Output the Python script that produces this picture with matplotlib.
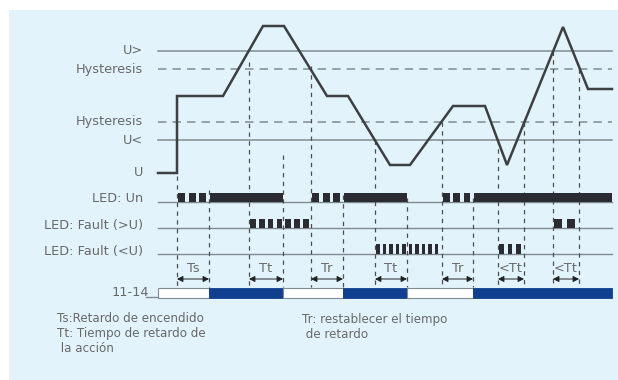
import matplotlib
matplotlib.use("Agg")
import matplotlib.pyplot as plt
from matplotlib.patches import Rectangle

# ---------------- data (diagram units: x = time, y = level, screen-like) -------------
level_labels = ["U>", "Hysteresis", "Hysteresis", "U<", "U"]
level_y = [51, 69, 122, 140, 173]
level_style = ["solid", "dashed", "dashed", "solid", None]

signal_t = [158, 177, 177, 223, 263, 284, 327, 348, 390, 410, 453, 485, 507, 563, 588, 612]
signal_u = [173, 173, 96, 96, 26, 26, 96, 96, 165, 165, 106, 106, 165, 27, 89, 89]

event_t = [177, 209, 249, 283, 311, 343, 375, 407, 442, 473, 498, 524, 553, 579]
event_top = [176, 190, 62, 155, 66, 195, 140, 198, 122, 198, 140, 122, 51, 69]

row_labels = ["LED: Un", "LED: Fault (>U)", "LED: Fault (<U)"]
row_y = [202, 228, 254]

# LED states per row: (start, end, mode)
led_un = [(177, 209, "blink3"), (209, 283, "on"), (311, 343, "blink3"), (343, 407, "on"),
          (442, 473, "blink3"), (473, 612, "on")]
led_over = [(249, 311, "blink7"), (553, 579, "blink2")]
led_under = [(375, 440, "fast10"), (498, 524, "fast3")]

delay_labels = ["Ts", "Tt", "Tr", "Tt", "Tr", "<Tt", "<Tt"]
delay_start = [177, 249, 311, 375, 442, 498, 553]
delay_end = [209, 283, 343, 407, 473, 524, 579]

relay_start = [158, 209, 283, 343, 407, 473]
relay_end = [209, 283, 343, 407, 473, 612]
relay_on = [False, True, False, True, False, True]

notes_left = ["Ts:Retardo de encendido", "Tt: Tiempo de retardo de", " la acción"]
notes_right = ["Tr: restablecer el tiempo", " de retardo"]

# ---------------- styling ----------------
BG = "#e3f3fb"
TXT = "#67696b"
GRID = "#7f8b90"
DARK = "#2b2b33"
NAVY = "#0f3f8f"

fig = plt.figure(figsize=(6.18, 3.80), dpi=100)
fig.patch.set_facecolor("white")
ax = fig.add_axes([0, 0, 1, 1])
ax.set_xlim(0, 618)
ax.set_ylim(380, 0)
ax.axis("off")

ax.add_patch(Rectangle((9, 10), 609, 370, facecolor=BG, edgecolor="none", zorder=0))

X0, X1 = 158, 612
lab_font = dict(family="DejaVu Sans", fontsize=9.3, color=TXT)
note_font = dict(family="DejaVu Sans", fontsize=8.6, color=TXT)

# level lines
for lab, y, st in zip(level_labels, level_y, level_style):
    if st == "solid":
        ax.plot([X0, X1], [y, y], color=GRID, lw=1.1, zorder=1)
    elif st == "dashed":
        ax.plot([X0, X1], [y, y], color=GRID, lw=1.1, dashes=(5.5, 4), zorder=1)
    ax.text(143, y, lab, ha="right", va="center", **lab_font)

# event dashed verticals
for t, top in zip(event_t, event_top):
    ax.plot([t, t], [top, 287], color="#4a4f55", lw=0.9, dashes=(3.5, 3.5), zorder=2)

# signal
ax.plot(signal_t, signal_u, color="#3c3f44", lw=1.8, zorder=4, solid_joinstyle="miter")

# LED rows
for lab, y in zip(row_labels, row_y):
    ax.plot([X0, X1], [y, y], color=GRID, lw=1.0, zorder=1)
    ax.text(143, y - 3, lab, ha="right", va="center", **lab_font)


def draw_led(segments, y, h):
    for a, b, mode in segments:
        if mode == "on":
            ax.add_patch(Rectangle((a + 1, y - h), b - a - 1, h, facecolor=DARK,
                                   edgecolor="none", zorder=5))
            continue
        if mode.startswith("blink"):
            n = int(mode[5:])
            w_frac = 0.65
        else:
            n = int(mode[4:])
            w_frac = 0.55
        pitch = (b - a) / n
        for i in range(n):
            ax.add_patch(Rectangle((a + 1 + i * pitch, y - h), pitch * w_frac, h,
                                   facecolor=DARK, edgecolor="none", zorder=5))


draw_led(led_un, row_y[0], 9)
draw_led(led_over, row_y[1], 9)
draw_led(led_under, row_y[2], 10)

# delay arrows
for lab, a, b in zip(delay_labels, delay_start, delay_end):
    ax.annotate("", xy=(a, 279), xytext=(b, 279),
                arrowprops=dict(arrowstyle="<|-|>,head_length=0.35,head_width=0.18",
                                color="#1e2226", lw=0.7, shrinkA=0, shrinkB=0), zorder=6)
    ax.text((a + b) / 2, 269, lab, ha="center", va="center", **lab_font)

# relay 11-14
ax.text(149, 292, "11-14", ha="right", va="center", **lab_font)
ax.plot([146, X0], [297, 297], color=GRID, lw=1.0, zorder=1)
for a, b, on in zip(relay_start, relay_end, relay_on):
    if on:
        ax.add_patch(Rectangle((a, 288), b - a, 10, facecolor=NAVY, edgecolor=NAVY,
                               lw=0.6, zorder=5))
    else:
        ax.add_patch(Rectangle((a, 288), b - a, 10, facecolor="white", edgecolor=GRID,
                               lw=0.8, zorder=5))

# notes
for i, line in enumerate(notes_left):
    ax.text(57, 319 + i * 15, line, ha="left", va="center", **note_font)
for i, line in enumerate(notes_right):
    ax.text(302, 319 + i * 15, line, ha="left", va="center", **note_font)

fig.savefig("out.png", dpi=100, facecolor=fig.get_facecolor())
